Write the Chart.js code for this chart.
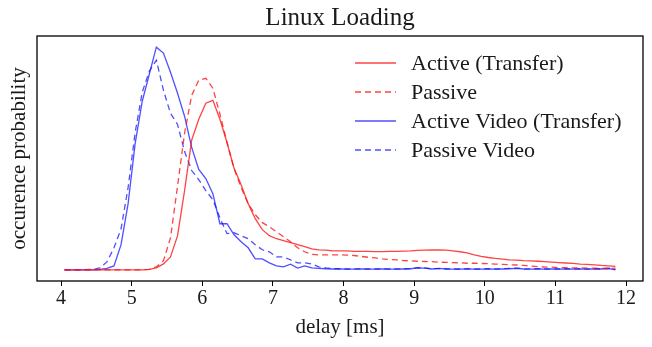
<!DOCTYPE html>
<html>
<head>
<meta charset="utf-8">
<title>Linux Loading</title>
<script src="https://cdn.jsdelivr.net/npm/chart.js@4"></script>
<style>
  body { margin: 0; background: #fff; }
  #wrap { width: 652px; height: 347px; }
</style>
</head>
<body>
<div id="wrap"><canvas id="loadChart" width="652" height="347"></canvas></div>
<script>
// delay bins (ms)
var delays = [
    4.05, 4.15, 4.25, 4.35, 4.45, 4.55, 4.65, 4.75, 4.85, 4.95,
    5.05, 5.15, 5.25, 5.35, 5.45, 5.55, 5.65, 5.75, 5.85, 5.95,
    6.05, 6.15, 6.25, 6.35, 6.45, 6.55, 6.65, 6.75, 6.85, 6.95,
    7.05, 7.15, 7.25, 7.35, 7.45, 7.55, 7.65, 7.75, 7.85, 7.95,
    8.05, 8.15, 8.25, 8.35, 8.45, 8.55, 8.65, 8.75, 8.85, 8.95,
    9.05, 9.15, 9.25, 9.35, 9.45, 9.55, 9.65, 9.75, 9.85, 9.95,
    10.05, 10.15, 10.25, 10.35, 10.45, 10.55, 10.65, 10.75, 10.85, 10.95,
    11.05, 11.15, 11.25, 11.35, 11.45, 11.55, 11.65, 11.75, 11.85
];

// occurence probability per bin (%)
var activeTransfer = [
    0, 0, 0, 0, 0, 0, 0, 0, 0, 0,
    0, 0, 0.02, 0.09, 0.27, 0.59, 1.55, 3.6, 5.88, 6.82,
    7.55, 7.68, 6.82, 5.77, 4.6, 3.86, 3.0, 2.32, 1.82, 1.55,
    1.41, 1.32, 1.23, 1.14, 1.05, 0.95, 0.91, 0.89, 0.86, 0.86,
    0.86, 0.84, 0.84, 0.84, 0.83, 0.83, 0.84, 0.84, 0.85, 0.86,
    0.88, 0.89, 0.9, 0.9, 0.89, 0.86, 0.82, 0.77, 0.68, 0.61,
    0.56, 0.52, 0.49, 0.45, 0.44, 0.42, 0.41, 0.39, 0.37, 0.35,
    0.33, 0.31, 0.29, 0.26, 0.25, 0.23, 0.2, 0.18, 0.16
];
var passive = [
    0, 0, 0, 0, 0, 0, 0, 0, 0, 0,
    0, 0, 0.02, 0.14, 0.41, 1.45, 3.8, 6.2, 7.9, 8.59,
    8.68, 8.23, 7.05, 5.77, 4.59, 3.73, 3.0, 2.5, 2.14, 1.95,
    1.73, 1.5, 1.27, 1.0, 0.82, 0.7, 0.68, 0.68, 0.68, 0.68,
    0.67, 0.65, 0.61, 0.57, 0.54, 0.5, 0.47, 0.45, 0.42, 0.41,
    0.39, 0.38, 0.37, 0.35, 0.34, 0.33, 0.32, 0.3, 0.3, 0.29,
    0.28, 0.26, 0.25, 0.23, 0.22, 0.2, 0.17, 0.15, 0.13, 0.12,
    0.1, 0.1, 0.09, 0.09, 0.08, 0.08, 0.07, 0.06, 0.08
];
var activeVideo = [
    0, 0, 0, 0, 0, 0.02, 0.07, 0.18, 1.14, 3.0,
    5.73, 7.64, 8.86, 10.09, 9.82, 8.95, 8.0, 6.95, 5.55, 4.55,
    4.14, 3.45, 2.09, 2.09, 1.59, 1.27, 1.0, 0.5, 0.5, 0.32,
    0.18, 0.14, 0.26, 0.08, 0.18, 0.09, 0.07, 0.05, 0.04, 0.04,
    0.03, 0.03, 0.04, 0.03, 0.03, 0.04, 0.03, 0.03, 0.04, 0.05,
    0.09, 0.08, 0.04, 0.07, 0.04, 0.03, 0.03, 0.04, 0.03, 0.03,
    0.04, 0.03, 0.04, 0.05, 0.07, 0.04, 0.03, 0.04, 0.03, 0.04,
    0.03, 0.04, 0.03, 0.04, 0.03, 0.04, 0.04, 0.06, 0
];
var passiveVideo = [
    0, 0, 0, 0.01, 0.02, 0.09, 0.36, 1.0, 1.86, 3.73,
    6.23, 8.05, 9.0, 9.5, 8.14, 7.09, 6.59, 5.36, 4.5, 4.09,
    3.59, 3.18, 2.36, 1.64, 1.68, 1.55, 1.41, 1.14, 0.91, 0.82,
    0.59, 0.59, 0.45, 0.32, 0.32, 0.27, 0.14, 0.09, 0.06, 0.05,
    0.04, 0.04, 0.05, 0.04, 0.04, 0.05, 0.04, 0.04, 0.05, 0.06,
    0.1, 0.09, 0.05, 0.06, 0.05, 0.04, 0.04, 0.05, 0.04, 0.04,
    0.05, 0.04, 0.05, 0.07, 0.08, 0.05, 0.04, 0.05, 0.04, 0.05,
    0.04, 0.05, 0.04, 0.05, 0.04, 0.05, 0.05, 0.08, 0.02
];

var seriesLabels = ['Active (Transfer)', 'Passive', 'Active Video (Transfer)', 'Passive Video'];
var xTicks = [4, 5, 6, 7, 8, 9, 10, 11, 12];

var RED = 'rgba(255, 20, 20, 0.8)';
var BLUE = 'rgba(20, 20, 255, 0.75)';

function toPoints(values) {
    return values.map(function(v, i) { return { x: delays[i], y: v }; });
}

// marges de 5% comme matplotlib
var peak = Math.max.apply(null, activeTransfer.concat(passive, activeVideo, passiveVideo));
var span = delays[delays.length - 1] - delays[0];

// cadre complet + légende dans la zone du graphe
var frameAndLegend = {
    id: 'frameAndLegend',
    afterDatasetsDraw: function(chart) {
        var ctx = chart.ctx;
        var a = chart.chartArea;
        ctx.save();
        ctx.strokeStyle = '#000';
        ctx.lineWidth = 1.3;
        ctx.setLineDash([]);
        ctx.strokeRect(a.left, a.top, a.right - a.left, a.bottom - a.top);

        ctx.font = '22px "Liberation Serif", serif';
        ctx.textBaseline = 'alphabetic';
        ctx.textAlign = 'left';
        chart.data.datasets.forEach(function(ds, i) {
            var y = 63 + i * 29;
            ctx.strokeStyle = ds.borderColor;
            ctx.lineWidth = ds.borderWidth;
            ctx.setLineDash(ds.borderDash || []);
            ctx.beginPath();
            ctx.moveTo(355, y);
            ctx.lineTo(396, y);
            ctx.stroke();
            ctx.setLineDash([]);
            ctx.fillStyle = '#1a1a1a';
            ctx.fillText(ds.label, 411, y + 7);
        });
        ctx.restore();
    }
};

var ctx = document.getElementById('loadChart').getContext('2d');
Chart.defaults.font.family = '"Liberation Serif", serif';
Chart.defaults.color = '#1a1a1a';

new Chart(ctx, {
    type: 'line',
    data: {
        datasets: [
            { label: seriesLabels[0], data: toPoints(activeTransfer), borderColor: RED, borderWidth: 1.3 },
            { label: seriesLabels[1], data: toPoints(passive), borderColor: RED, borderWidth: 1.3, borderDash: [6, 4] },
            { label: seriesLabels[2], data: toPoints(activeVideo), borderColor: BLUE, borderWidth: 1.3 },
            { label: seriesLabels[3], data: toPoints(passiveVideo), borderColor: BLUE, borderWidth: 1.3, borderDash: [6, 4] }
        ]
    },
    options: {
        responsive: false,
        animation: false,
        devicePixelRatio: 1,
        elements: { point: { radius: 0 }, line: { tension: 0, fill: false } },
        layout: { padding: { left: 0, right: 9, top: 0, bottom: 0 } },
        plugins: {
            legend: { display: false },
            tooltip: { enabled: false },
            title: {
                display: true,
                text: 'Linux Loading',
                fullSize: false,
                color: '#1a1a1a',
                font: { size: 25, weight: 'normal' },
                padding: { top: 3, bottom: 3 }
            }
        },
        scales: {
            x: {
                type: 'linear',
                min: delays[0] - 0.05 * span,
                max: delays[delays.length - 1] + 0.05 * span,
                afterBuildTicks: function(scale) {
                    scale.ticks = xTicks.map(function(v) { return { value: v }; });
                },
                ticks: { font: { size: 20 }, padding: 1, maxRotation: 0, autoSkip: false, color: '#1a1a1a' },
                grid: { display: true, drawOnChartArea: false, drawTicks: true, tickLength: 5, color: '#000', lineWidth: 1 },
                border: { display: false },
                title: { display: true, text: 'delay [ms]', font: { size: 21 }, padding: { top: 0, bottom: 7 } },
                afterFit: function(scale) { scale.height = 66; }
            },
            y: {
                min: -0.05 * peak,
                max: 1.05 * peak,
                ticks: { display: false },
                grid: { display: false },
                border: { display: false },
                title: { display: true, text: 'occurence probability', font: { size: 21 }, padding: { top: 7, bottom: 0 } },
                afterFit: function(scale) { scale.width = 37; }
            }
        }
    },
    plugins: [frameAndLegend]
});
</script>
</body>
</html>
